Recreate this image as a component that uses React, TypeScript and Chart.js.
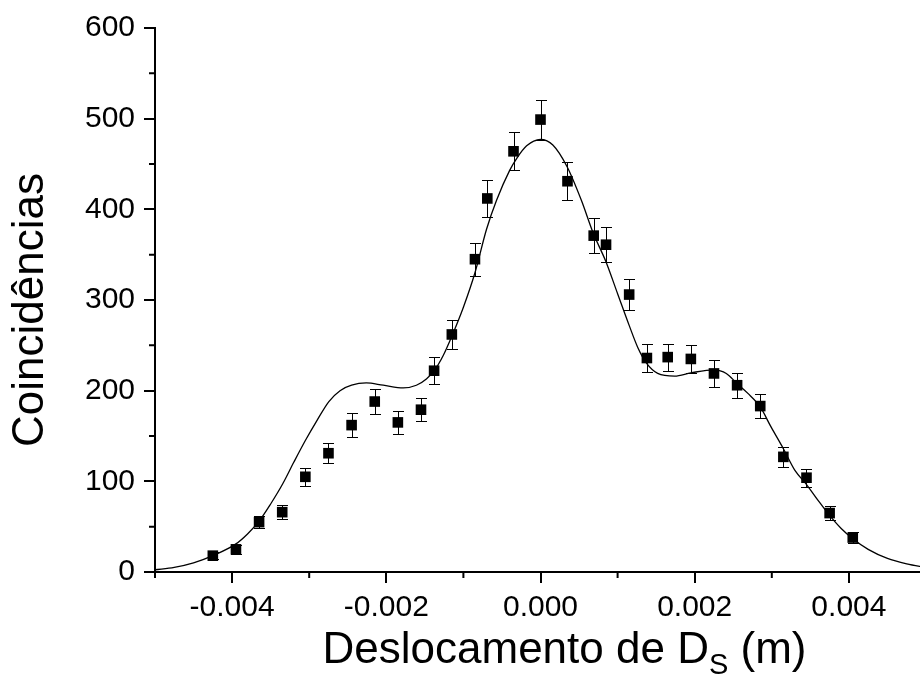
import React, { useEffect, useRef } from "react";
import { Chart, registerables } from "chart.js";

Chart.register(...registerables);

// Measured data points (displacement in m, coincidences)
const xData = [-0.00425, -0.00395, -0.00365, -0.00335, -0.00305, -0.00275, -0.00245, -0.00215, -0.00185, -0.00155, -0.00138, -0.00115, -0.00085, -0.00069, -0.00035, 0, 0.00035, 0.00069, 0.00085, 0.00115, 0.00138, 0.00165, 0.00195, 0.00225, 0.00255, 0.00285, 0.00315, 0.00345, 0.00375, 0.00405];
const yData = [18, 25, 55, 66, 105, 131, 162, 188, 165, 179, 222, 262, 345, 412, 464, 499, 431, 371, 361, 306, 236, 237, 235, 219, 206, 183, 127, 104, 65, 38];
const errData = [4, 5, 7, 8, 10, 11, 13, 14, 13, 13, 15, 16, 18, 20, 21, 22, 21, 19, 19, 17, 15, 15, 15, 15, 14, 13, 11, 10, 8, 6];

// Fitted curve
const fitX = [-0.005, -0.00475, -0.0045, -0.00425, -0.00395, -0.0038, -0.00365, -0.0035, -0.003345, -0.0032, -0.00305, -0.0029, -0.002745, -0.0026, -0.00245, -0.00226, -0.00204, -0.00178, -0.00161, -0.00148, -0.001378, -0.00126, -0.00115, -0.001, -0.00085, -0.0007, -0.00057, -0.0004, -0.00031, -0.00018, 0, 0.00016, 0.000345, 0.00053, 0.000685, 0.000845, 0.001, 0.00115, 0.00126, 0.001377, 0.00152, 0.00174, 0.00195, 0.00225, 0.00241, 0.002547, 0.00269, 0.00285, 0.00299, 0.00315, 0.0033, 0.003446, 0.0036, 0.003744, 0.0039, 0.004047, 0.00425, 0.0045, 0.00475, 0.005];
const fitY = [2.5, 5, 10, 18, 31, 42, 56, 75, 97, 121, 145, 167, 188, 200, 206, 208.5, 206, 203, 206, 213, 222, 239, 260, 292, 330, 378, 410, 443, 456, 470, 477, 471, 447, 410, 373.5, 343, 307, 272, 248, 230, 219, 216, 219.6, 223, 219, 208, 197, 182, 160, 136, 112, 97, 79, 63, 48, 37, 25, 15, 9, 5];

const xMajorTicks = [-0.004, -0.002, 0, 0.002, 0.004];
const xMinorTicks = [-0.005, -0.003, -0.001, 0.001, 0.003, 0.005];
const yMajorTicks = [0, 100, 200, 300, 400, 500, 600];
const yMinorTicks = [50, 150, 250, 350, 450, 550];

const xTitleMain = "Deslocamento de D";
const xTitleSub = "S";
const xTitleEnd = " (m)";
const yTitle = "Coincidências";

const FONT = "'Liberation Sans', Arial, Helvetica, sans-serif";

export default function App() {
  const ref = useRef<HTMLCanvasElement | null>(null);

  useEffect(() => {
    if (!ref.current) return;

    const extrasPlugin = {
      id: "extras",
      afterDatasetsDraw(chart: any) {
        const ctx = chart.ctx;
        const xs = chart.scales.x;
        const ys = chart.scales.y;
        ctx.save();
        ctx.strokeStyle = "#000";
        ctx.lineWidth = 1;
        for (let i = 0; i < xData.length; i++) {
          const px = Math.round(xs.getPixelForValue(xData[i])) + 0.5;
          const y1 = Math.round(ys.getPixelForValue(yData[i] + errData[i])) + 0.5;
          const y2 = Math.round(ys.getPixelForValue(yData[i] - errData[i])) + 0.5;
          ctx.beginPath();
          ctx.moveTo(px, y1);
          ctx.lineTo(px, y2);
          ctx.moveTo(px - 5.5, y1);
          ctx.lineTo(px + 5.5, y1);
          ctx.moveTo(px - 5.5, y2);
          ctx.lineTo(px + 5.5, y2);
          ctx.stroke();
        }
        ctx.restore();
      },
      afterDraw(chart: any) {
        const ctx = chart.ctx;
        const xs = chart.scales.x;
        const ys = chart.scales.y;
        const area = chart.chartArea;
        ctx.save();
        // minor ticks
        ctx.strokeStyle = "#000";
        ctx.lineWidth = 2;
        ctx.beginPath();
        for (const v of xMinorTicks) {
          const px = xs.getPixelForValue(v);
          ctx.moveTo(px, area.bottom);
          ctx.lineTo(px, area.bottom + 6);
        }
        for (const v of yMinorTicks) {
          const py = ys.getPixelForValue(v);
          ctx.moveTo(area.left, py);
          ctx.lineTo(area.left - 6, py);
        }
        ctx.stroke();

        // axis titles
        ctx.fillStyle = "#000";
        const big = "44px " + FONT;
        const small = "29px " + FONT;
        ctx.font = big;
        const w1 = ctx.measureText(xTitleMain).width;
        const w3 = ctx.measureText(xTitleEnd).width;
        ctx.font = small;
        const w2 = ctx.measureText(xTitleSub).width;
        const total = w1 + w2 + w3;
        const cx = (area.left + area.right) / 2 + 24;
        let x0 = cx - total / 2;
        const base = area.bottom + 91;
        ctx.textAlign = "left";
        ctx.textBaseline = "alphabetic";
        ctx.font = big;
        ctx.fillText(xTitleMain, x0, base);
        x0 += w1;
        ctx.font = small;
        ctx.fillText(xTitleSub, x0, base + 11);
        x0 += w2;
        ctx.font = big;
        ctx.fillText(xTitleEnd, x0, base);

        ctx.translate(area.left - 112, (area.top + area.bottom) / 2 + 10);
        ctx.rotate(-Math.PI / 2);
        ctx.textAlign = "center";
        ctx.font = big;
        ctx.fillText(yTitle, 0, 0);
        ctx.restore();
      },
    };

    const chart = new Chart(ref.current, {
      type: "scatter",
      data: {
        datasets: [
          {
            type: "line",
            data: fitX.map((x, i) => ({ x, y: fitY[i] })),
            borderColor: "#000",
            borderWidth: 1.3,
            pointRadius: 0,
            fill: false,
            cubicInterpolationMode: "monotone",
            order: 2,
          } as any,
          {
            type: "scatter",
            data: xData.map((x, i) => ({ x, y: yData[i] })),
            pointStyle: "rect",
            pointRadius: 7.5,
            pointBorderWidth: 0,
            backgroundColor: "#000",
            borderColor: "#000",
            order: 1,
          } as any,
        ],
      },
      options: {
        animation: false,
        responsive: false,
        devicePixelRatio: 1,
        layout: { padding: { left: 0, right: 14, top: 28, bottom: 0 } },
        plugins: {
          legend: { display: false },
          tooltip: { enabled: false },
        },
        scales: {
          x: {
            type: "linear",
            min: -0.005,
            max: 0.005,
            afterBuildTicks: (s: any) => {
              s.ticks = xMajorTicks.map((v) => ({ value: v }));
            },
            afterFit: (s: any) => {
              s.height = 108;
            },
            grid: { drawOnChartArea: false, drawTicks: true, tickLength: 11, color: "#000", lineWidth: 2 },
            border: { display: true, color: "#000", width: 2 },
            ticks: {
              color: "#000",
              padding: 7,
              maxRotation: 0,
              autoSkip: false,
              font: { family: FONT, size: 30 },
              callback: (v: any) => Number(v).toFixed(3),
            },
          },
          y: {
            type: "linear",
            min: 0,
            max: 600,
            afterBuildTicks: (s: any) => {
              s.ticks = yMajorTicks.map((v) => ({ value: v }));
            },
            afterFit: (s: any) => {
              s.width = 155;
            },
            grid: { drawOnChartArea: false, drawTicks: true, tickLength: 11, color: "#000", lineWidth: 2 },
            border: { display: true, color: "#000", width: 2 },
            ticks: {
              color: "#000",
              padding: 9,
              autoSkip: false,
              font: { family: FONT, size: 30 },
              callback: (v: any) => String(v),
            },
          },
        },
      },
      plugins: [extrasPlugin],
    });

    return () => chart.destroy();
  }, []);

  return (
    <div
      style={{
        position: "fixed",
        left: 0,
        top: 0,
        width: 920,
        height: 680,
        overflow: "hidden",
        background: "#fff",
      }}
    >
      <canvas ref={ref} width={940} height={680} style={{ display: "block", width: 940, height: 680 }} />
    </div>
  );
}
